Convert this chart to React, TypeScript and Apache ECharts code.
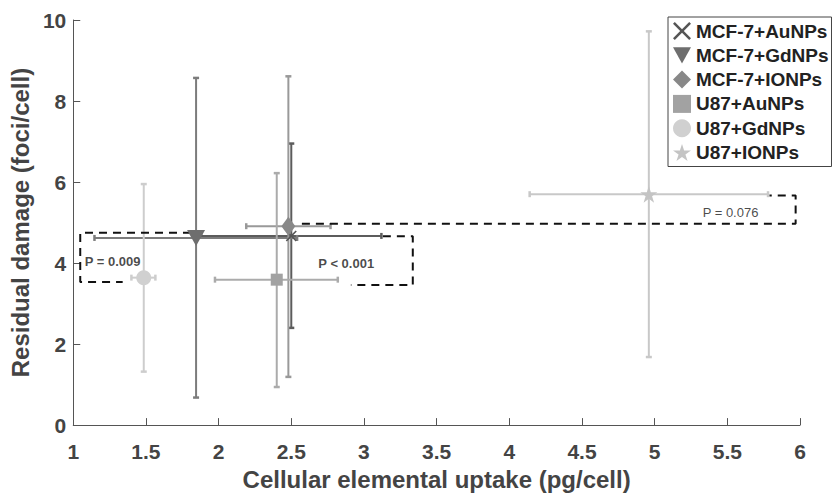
import React, { useEffect, useRef } from 'react';
import * as echarts from 'echarts';

const seriesNames = ['MCF-7+AuNPs', 'MCF-7+GdNPs', 'MCF-7+IONPs', 'U87+AuNPs', 'U87+GdNPs', 'U87+IONPs'];
const uptake = [2.5, 1.845, 2.48, 2.4, 1.485, 4.96];
const damage = [4.67, 4.62, 4.91, 3.59, 3.64, 5.7];
const uptakeLow = [1.88, 1.146, 2.19, 1.975, 1.4, 4.14];
const uptakeHigh = [3.12, 2.54, 2.77, 2.82, 1.565, 5.78];
const damageLow = [2.4, 0.68, 1.19, 0.94, 1.32, 1.68];
const damageHigh = [6.95, 8.57, 8.61, 6.22, 5.95, 9.72];

const annotationTexts = ['P = 0.009', 'P < 0.001', 'P = 0.076'];
const annotationX = [1.271, 2.878, 5.522];
const annotationY = [4.05, 3.99, 5.24];
const annotationBold = [true, true, false];
const bracket1 = [[1.81, 4.75], [1.048, 4.75], [1.048, 3.53], [1.34, 3.53]];
const bracket2 = [[3.13, 4.66], [3.336, 4.66], [3.336, 3.46], [2.91, 3.46]];
const bracket3 = [[2.573, 4.97], [5.97, 4.97], [5.97, 5.67], [5.79, 5.67]];
const brackets = [bracket1, bracket2, bracket3];

const FONT = '"Liberation Sans", Arial, Helvetica, sans-serif';

const markerColors = ['#555555', '#6e6e6e', '#888888', '#a2a2a2', '#d0d0d0', '#c4c4c4'];
const barColors = ['#5c5c5c', '#7c7c7c', '#999999', '#ababab', '#cdcdcd', '#c8c8c8'];
const STAR = 'path://M50,0 L61.17,34.63 L97.55,34.55 L68.07,55.87 L79.39,90.45 L50,69 L20.61,90.45 L31.93,55.87 L2.45,34.55 L38.83,34.63 Z';
const CROSS = 'path://M0,1 L1,0 L5,4 L9,0 L10,1 L6,5 L10,9 L9,10 L5,6 L1,10 L0,9 L4,5 Z';
const TRI_DOWN = 'path://M0,0 L10,0 L5,9 Z';
const symbols = [CROSS, TRI_DOWN, 'diamond', 'rect', 'circle', STAR];
const symbolSizes: any[] = [[11, 11], [18, 16], [14, 19], [12, 12], [15, 15], [17, 17]];

export default function App() {
  const ref = useRef<HTMLDivElement>(null);
  useEffect(() => {
    if (!ref.current) return;
    const chart = echarts.init(ref.current, undefined, { renderer: 'svg' });

    const errorSeries = seriesNames.map((name, i) => ({
      type: 'custom',
      name: name + ' err',
      silent: true,
      z: 2,
      data: [[uptake[i], damage[i], uptakeLow[i], uptakeHigh[i], damageLow[i], damageHigh[i]]],
      renderItem: (params: any, api: any) => {
        const c = api.coord([api.value(0), api.value(1)]);
        const l = api.coord([api.value(2), api.value(1)]);
        const r = api.coord([api.value(3), api.value(1)]);
        const b = api.coord([api.value(0), api.value(4)]);
        const t = api.coord([api.value(0), api.value(5)]);
        const st = { stroke: barColors[i], lineWidth: 2 };
        const cap = { stroke: barColors[i], lineWidth: 2.5 };
        const h = 3;
        return {
          type: 'group',
          children: [
            { type: 'line', shape: { x1: l[0], y1: l[1], x2: r[0], y2: r[1] }, style: st },
            { type: 'line', shape: { x1: c[0], y1: b[1], x2: c[0], y2: t[1] }, style: st },
            { type: 'line', shape: { x1: c[0] - h, y1: b[1], x2: c[0] + h, y2: b[1] }, style: cap },
            { type: 'line', shape: { x1: c[0] - h, y1: t[1], x2: c[0] + h, y2: t[1] }, style: cap },
            { type: 'line', shape: { x1: l[0], y1: c[1] - h, x2: l[0], y2: c[1] + h }, style: cap },
            { type: 'line', shape: { x1: r[0], y1: c[1] - h, x2: r[0], y2: c[1] + h }, style: cap },
          ],
        };
      },
    }));

    const bracketSeries = brackets.map((pts, i) => ({
      type: 'line',
      name: 'bracket' + i,
      data: pts,
      symbol: 'none',
      silent: true,
      z: 4,
      lineStyle: { color: '#111111', width: 2, type: [8, 6] },
    }));

    const textSeries = {
      type: 'scatter',
      name: 'ptext',
      silent: true,
      symbolSize: 0,
      z: 6,
      data: annotationTexts.map((t, i) => ({
        value: [annotationX[i], annotationY[i]],
        label: {
          show: true,
          position: 'inside',
          formatter: t,
          fontSize: 13,
          fontFamily: FONT,
          fontWeight: annotationBold[i] ? 'bold' : 'normal',
          color: '#1a1a1a',
        },
      })),
    };

    const markerSeries = seriesNames.map((name, i) => ({
      type: 'scatter',
      name,
      z: 5,
      symbol: symbols[i],
      symbolSize: symbolSizes[i],
      itemStyle: { color: markerColors[i], opacity: 1 },
      data: [[uptake[i], damage[i]]],
    }));

    chart.setOption({
      animation: false,
      backgroundColor: '#ffffff',
      grid: { left: 68, right: 36, top: 20, bottom: 60 },
      legend: {
        data: seriesNames,
        orient: 'vertical',
        left: 668,
        top: 17,
        padding: [3, 3, 3, 5],
        itemGap: 2.3,
        itemWidth: 18,
        itemHeight: 18,
        borderColor: '#444444',
        borderWidth: 1,
        backgroundColor: '#ffffff',
        textStyle: { fontSize: 19, fontWeight: 'bold', color: '#222222', fontFamily: FONT, lineHeight: 22 },
      },
      xAxis: {
        type: 'value',
        min: 1,
        max: 6,
        interval: 0.5,
        name: 'Cellular elemental uptake (pg/cell)',
        nameLocation: 'middle',
        nameGap: 36,
        nameTextStyle: { fontSize: 24, fontWeight: 'bold', color: '#444444', fontFamily: FONT },
        splitLine: { show: false },
        axisLine: { show: true, lineStyle: { color: '#555555', width: 1 } },
        axisTick: { show: true, inside: true, length: 7, lineStyle: { color: '#555555' } },
        axisLabel: { fontSize: 21, fontWeight: 'bold', color: '#444444', fontFamily: FONT, margin: 16 },
      },
      yAxis: {
        type: 'value',
        min: 0,
        max: 10,
        interval: 2,
        name: 'Residual damage (foci/cell)',
        nameLocation: 'middle',
        nameGap: 36,
        nameTextStyle: { fontSize: 24, fontWeight: 'bold', color: '#444444', fontFamily: FONT },
        splitLine: { show: false },
        axisLine: { show: true, lineStyle: { color: '#555555', width: 1 } },
        axisTick: { show: true, inside: true, length: 7, lineStyle: { color: '#555555' } },
        axisLabel: { fontSize: 21, fontWeight: 'bold', color: '#444444', fontFamily: FONT, margin: 7 },
      },
      series: [...errorSeries, ...bracketSeries, textSeries, ...markerSeries],
    });
    return () => chart.dispose();
  }, []);
  return <div ref={ref} style={{ width: 836, height: 496, position: 'absolute', left: 0, top: 0 }} />;
}
